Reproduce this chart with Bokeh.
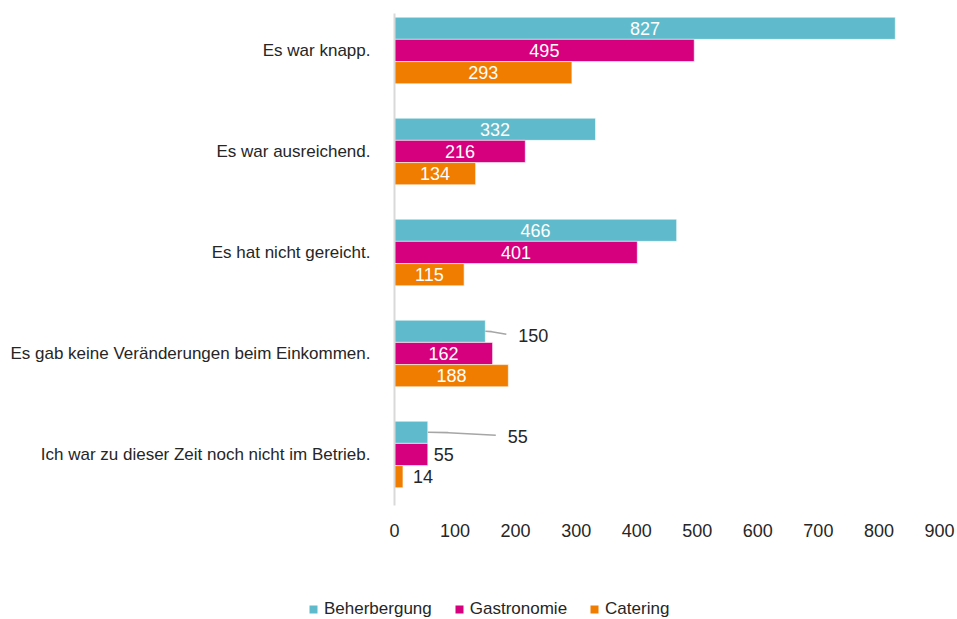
from bokeh.plotting import figure
from bokeh.models import (ColumnDataSource, Range1d, FixedTicker, Legend, LegendItem, Spacer)
from bokeh.layouts import column, row
from bokeh.core.properties import value
from bokeh.embed import file_html
from bokeh.resources import INLINE

categories = ["Es war knapp.", "Es war ausreichend.", "Es hat nicht gereicht.",
              "Es gab keine Veränderungen beim Einkommen.",
              "Ich war zu dieser Zeit noch nicht im Betrieb."]
series_names = ["Beherbergung", "Gastronomie", "Catering"]
beherbergung = [827, 332, 466, 150, 55]
gastronomie = [495, 216, 401, 162, 55]
catering = [293, 134, 115, 188, 14]
x_ticks = [0, 100, 200, 300, 400, 500, 600, 700, 800, 900]

colors = ["#5FBBCB", "#D6007E", "#F07D00"]
FONT = "Liberation Sans"
offsets = [0.22, 0.0, -0.22]
bar_h = 0.22

n = len(categories)
ypos = [n - i for i in range(n)]

p = figure(width=957, height=591, output_backend="svg", toolbar_location=None,
           x_range=Range1d(0, 900), y_range=Range1d(0.495, 5.366),
           min_border_left=394, min_border_right=18, min_border_top=13,
           min_border_bottom=86)
p.outline_line_color = None
p.grid.grid_line_color = None
p.background_fill_color = "white"

px_per_unit = 545 / 900.0

all_vals = [beherbergung, gastronomie, catering]
for k, (name, vals, col, off) in enumerate(zip(series_names, all_vals, colors, offsets)):
    ys = [y + off for y in ypos]
    src = ColumnDataSource(dict(y=ys, right=vals))
    p.hbar(y="y", left=0, right="right", height=bar_h, source=src,
           fill_color=col, line_color="white", line_width=0.6)

# labels
in_x, in_y, in_t = [], [], []
out_x, out_y, out_t = [], [], []
lead_xs, lead_ys = [], []
for k, vals in enumerate(all_vals):
    for i, v in enumerate(vals):
        yc = ypos[i] + offsets[k]
        if v >= 100 and not (k == 0 and v < 200 and i >= 3):
            in_x.append(v / 2.0); in_y.append(yc); in_t.append(str(v))
        elif k == 0:
            lead_px = 21 if v > 100 else 68
            gap_px = 12
            x_end = v + lead_px / px_per_unit
            lead_xs.append([v, v + (lead_px * 0.3) / px_per_unit, x_end])
            lead_ys.append([yc, yc - 0.004, yc - 0.03])
            out_x.append(x_end + gap_px / px_per_unit); out_y.append(yc - 0.04)
            out_t.append(str(v))
        else:
            pad = 6 if v > 30 else 10
            out_x.append(v + pad / px_per_unit); out_y.append(yc); out_t.append(str(v))

p.multi_line(xs=lead_xs, ys=lead_ys, line_color="#A6A6A6", line_width=1.6)
p.text(x=in_x, y=in_y, text=in_t, text_color="white", text_align="center",
       text_baseline="middle", text_font=value(FONT), text_font_size="18px")
p.text(x=out_x, y=out_y, text=out_t, text_color="#262626", text_align="left",
       text_baseline="middle", text_font=value(FONT), text_font_size="18px")

# axes
p.yaxis.ticker = FixedTicker(ticks=ypos)
p.yaxis.major_label_overrides = {y: c for y, c in zip(ypos, categories)}
p.yaxis.major_tick_line_color = None
p.yaxis.minor_tick_line_color = None
p.yaxis.axis_line_color = "#D9D9D9"
p.yaxis.axis_line_width = 2
p.yaxis.major_label_standoff = 18
p.yaxis.major_label_text_font = FONT
p.yaxis.major_label_text_font_size = "17px"
p.yaxis.major_label_text_color = "#262626"

p.xaxis.ticker = FixedTicker(ticks=x_ticks)
p.xaxis.axis_line_color = None
p.xaxis.major_tick_line_color = None
p.xaxis.minor_tick_line_color = None
p.xaxis.major_label_standoff = 12
p.xaxis.major_label_text_font = FONT
p.xaxis.major_label_text_font_size = "18px"
p.xaxis.major_label_text_color = "#262626"

# legend strip as a separate figure (proxy glyphs kept outside its visible range)
lf = figure(width=651, height=28, output_backend="svg", toolbar_location=None,
            x_range=Range1d(0, 1), y_range=Range1d(0, 1),
            x_axis_type=None, y_axis_type=None,
            min_border=0, min_border_left=0, min_border_right=0,
            min_border_top=0, min_border_bottom=0)
lf.outline_line_color = None
lf.grid.grid_line_color = None
leg_renderers = []
for col in colors:
    leg_renderers.append(lf.rect(x=[-5], y=[-5], width=1, height=1,
                                 fill_color=col, line_color=None))
legend = Legend(items=[LegendItem(label=nm, renderers=[r]) for nm, r in zip(series_names, leg_renderers)],
                orientation="horizontal", location=(2, 0),
                label_text_font=FONT, label_text_font_size="17px",
                label_text_color="#262626", glyph_width=10, glyph_height=10,
                label_standoff=6, spacing=22, padding=2, margin=0,
                border_line_color=None, background_fill_alpha=0)
lf.add_layout(legend, "center")

layout = column(p, row(Spacer(width=306, height=28), lf, spacing=0), spacing=0)
open("out.html", "w").write(file_html(layout, INLINE))
